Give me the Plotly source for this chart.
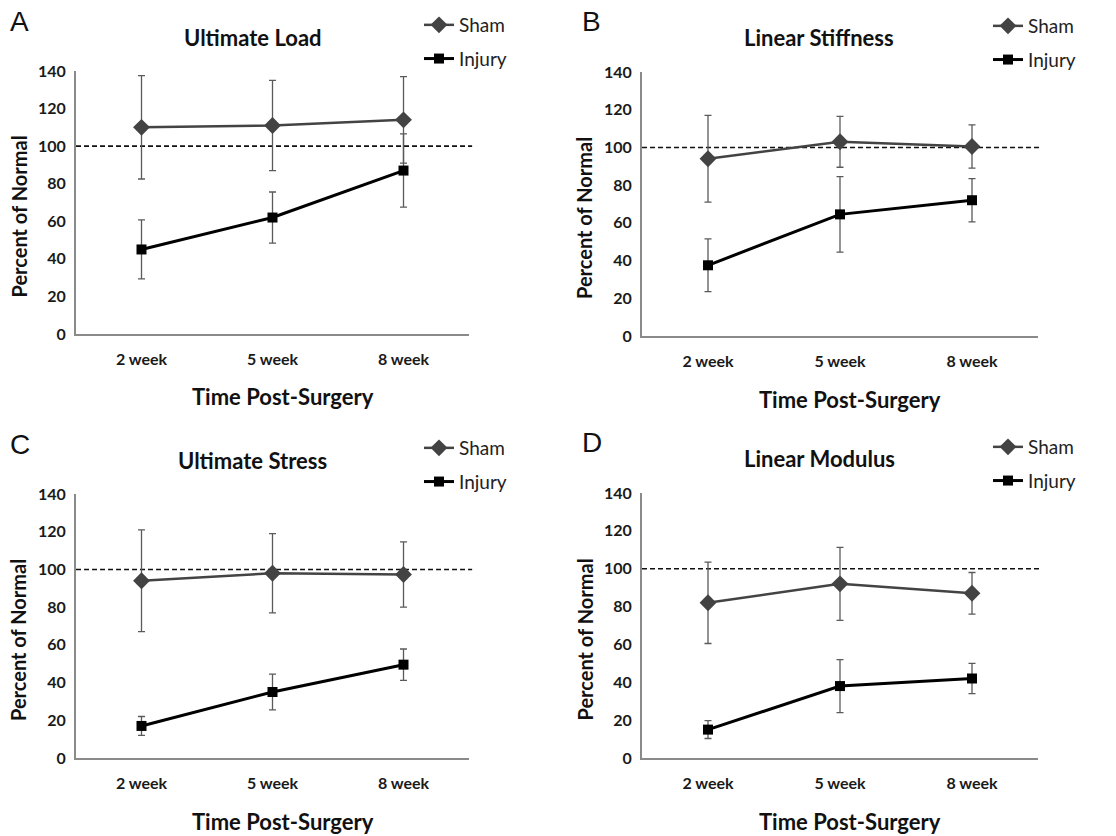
import plotly.graph_objects as go

W, H = 1116, 836

weeks = ["2 week", "5 week", "8 week"]
yticks = [0, 20, 40, 60, 80, 100, 120, 140]

panel_letters = ["A", "B", "C", "D"]
panel_titles = ["Ultimate Load", "Linear Stiffness", "Ultimate Stress", "Linear Modulus"]

sham_load = [110, 111, 114]
sham_load_err = [27.5, 24, 23]
injury_load = [45, 62, 87]
injury_load_err = [15.7, 13.6, 19.5]

sham_stiff = [94, 103, 100.5]
sham_stiff_err = [23, 13.5, 11.5]
injury_stiff = [37.5, 64.5, 72]
injury_stiff_err = [14, 20, 11.5]

sham_stress = [94, 98, 97.3]
sham_stress_err = [27, 21, 17.3]
injury_stress = [17, 35, 49.5]
injury_stress_err = [5, 9.5, 8.3]

sham_mod = [82, 92, 87]
sham_mod_err = [21.5, 19.3, 11]
injury_mod = [15, 38, 42]
injury_mod_err = [4.7, 14, 8]

normal_level = 100

panels = [
    (sham_load, sham_load_err, injury_load, injury_load_err),
    (sham_stiff, sham_stiff_err, injury_stiff, injury_stiff_err),
    (sham_stress, sham_stress_err, injury_stress, injury_stress_err),
    (sham_mod, sham_mod_err, injury_mod, injury_mod_err),
]

# plot-area boxes in pixels: (left, right, top, bottom)
boxes = [
    (76, 469, 71, 334),
    (642, 1038, 72, 336),
    (76, 469, 494, 758),
    (642, 1038, 493, 758),
]


def px(x):
    return x / W


def py(y):
    return 1 - y / H


FONT = "Lato"
SHAM_C = "#434343"
INJ_C = "#000000"
ERR_C = "#5a5a5a"

fig = go.Figure()
layout = dict(
    template="none",
    width=W, height=H,
    margin=dict(l=0, r=0, t=0, b=0, autoexpand=False),
    paper_bgcolor="white", plot_bgcolor="white",
    showlegend=True,
    annotations=[], shapes=[],
)

xcat = list(range(len(weeks)))

for i, (s, se, inj, ie) in enumerate(panels):
    n = i + 1
    xa = "x" if n == 1 else f"x{n}"
    ya = "y" if n == 1 else f"y{n}"
    lg = "legend" if n == 1 else f"legend{n}"
    fig.add_trace(go.Scatter(
        x=xcat, y=s, name="Sham", mode="lines+markers",
        xaxis=xa, yaxis=ya, legend=lg, legendgroup=f"s{n}",
        line=dict(color=SHAM_C, width=2.5),
        marker=dict(symbol="diamond", size=13, color=SHAM_C, line=dict(width=0)),
        error_y=dict(type="data", array=se, visible=True, color=ERR_C,
                     thickness=1.3, width=3.5),
    ))
    fig.add_trace(go.Scatter(
        x=xcat, y=inj, name="Injury", mode="lines+markers",
        xaxis=xa, yaxis=ya, legend=lg, legendgroup=f"i{n}",
        line=dict(color=INJ_C, width=3),
        marker=dict(symbol="square", size=10, color=INJ_C, line=dict(width=0)),
        error_y=dict(type="data", array=ie, visible=True, color=ERR_C,
                     thickness=1.3, width=3.5),
    ))

    l, r, t, b = boxes[i]
    axkey_x = "xaxis" if n == 1 else f"xaxis{n}"
    axkey_y = "yaxis" if n == 1 else f"yaxis{n}"
    layout[axkey_x] = dict(
        domain=[px(l), px(r)], anchor=ya, range=[-0.5, 2.5],
        tickvals=xcat, ticktext=weeks, showgrid=False, zeroline=False,
        showline=True, linecolor="#8a8a8a", linewidth=2, ticks="",
        tickfont=dict(family=FONT, size=16, color="#1a1a1a", weight="bold"),
        ticklabelstandoff=10, fixedrange=True, automargin=False,
    )
    layout[axkey_y] = dict(
        domain=[py(b), py(t)], anchor=xa, range=[0, 140],
        tickvals=yticks, showgrid=False, zeroline=False,
        showline=True, linecolor="#8a8a8a", linewidth=2, ticks="",
        tickfont=dict(family=FONT, size=16, color="#1a1a1a", weight="bold"),
        ticklabelstandoff=5, fixedrange=True, automargin=False,
    )
    layout["shapes"].append(dict(
        type="line", xref=f"{xa} domain", yref=ya, x0=0, x1=1.008,
        y0=normal_level, y1=normal_level, layer="below",
        line=dict(color="#111111", width=1.6, dash="5px,3px"),
    ))
    cx = (l + r) / 2
    # title
    layout["annotations"].append(dict(
        text=panel_titles[i], xref="paper", yref="paper",
        x=px(cx - 20 if n in (1, 3) else cx - 21), y=py(t - 34), xanchor="center", yanchor="middle",
        showarrow=False, font=dict(family=FONT, size=22, color="#111", weight="bold"),
    ))
    # panel letter
    layout["annotations"].append(dict(
        text=panel_letters[i], xref="paper", yref="paper",
        x=px(l - 68 if n in (1, 3) else l - 62), y=py(t - 50), xanchor="left", yanchor="middle",
        showarrow=False, font=dict(family="Liberation Sans", size=28, color="#111"),
    ))
    # x axis title
    layout["annotations"].append(dict(
        text="Time Post-Surgery", xref="paper", yref="paper",
        x=px(cx + 10), y=py(b + 63), xanchor="center", yanchor="middle",
        showarrow=False, font=dict(family=FONT, size=22, color="#111", weight="bold"),
    ))
    # y axis title
    layout["annotations"].append(dict(
        text="Percent of Normal", xref="paper", yref="paper", textangle=-90,
        x=px(l - 58), y=py((t + b) / 2 + 14), xanchor="center", yanchor="middle",
        showarrow=False, font=dict(family=FONT, size=20, color="#111", weight="bold"),
    ))
    layout[lg] = dict(
        x=px(r - 50), y=py(t - 65), xanchor="left", yanchor="top",
        bgcolor="rgba(0,0,0,0)", borderwidth=0, itemwidth=30,
        traceorder="grouped", tracegroupgap=6,
        font=dict(family=FONT, size=19, color="#222"),
        itemclick=False, itemdoubleclick=False,
    )

fig.update_layout(**layout)
fig.write_html(
    "out.html",
    config={"displayModeBar": False},
    post_script="document.body.style.margin='0';document.body.style.overflow='hidden';",
)
